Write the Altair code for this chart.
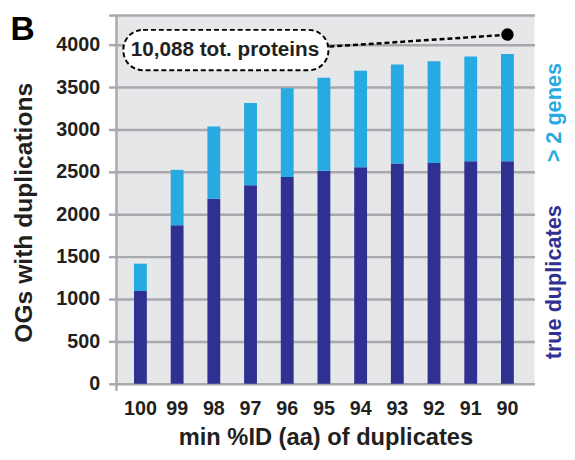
import altair as alt
import pandas as pd

# ---- data ----
pct_id = ["100", "99", "98", "97", "96", "95", "94", "93", "92", "91", "90"]
true_duplicates = [1095, 1870, 2183, 2343, 2439, 2512, 2555, 2598, 2605, 2625, 2625]
more_than_2_genes = [322, 654, 852, 971, 1049, 1100, 1138, 1169, 1201, 1235, 1266]
y_ticks = [0, 500, 1000, 1500, 2000, 2500, 3000, 3500, 4000, 4350]
y_max = 4350
annot_text = "10,088 tot. proteins"
annot_point = {"pid": "90", "v": 4120}

DARK = "#2E3192"
LIGHT = "#27AAE1"
GRID = "#A7A9AC"
BG = "#E6E7E8"
INK = "#231F20"
FONT = "Liberation Sans"

W, H = 424, 374

rows = []
for p, d, g in zip(pct_id, true_duplicates, more_than_2_genes):
    rows.append({"pid": p, "series": "true duplicates", "value": d, "ord": 0})
    rows.append({"pid": p, "series": "> 2 genes", "value": g, "ord": 1})
df = pd.DataFrame(rows)

x_scale = alt.Scale(paddingInner=0.65, paddingOuter=0.52, align=0.46, round=False)

x_enc = alt.X(
    "pid:N",
    sort=pct_id,
    scale=x_scale,
    axis=alt.Axis(
        title="min %ID (aa) of duplicates",
        labelAngle=0, ticks=False, domain=False, grid=False,
        labelPadding=15, labelFont=FONT, labelFontSize=20, labelFontWeight="bold",
        labelColor=INK, titleFont=FONT, titleFontSize=24, titleFontWeight="bold",
        titleColor=INK, titleX=212, titleY=62, titleBaseline="alphabetic",
    ),
)

bars = alt.Chart(df).mark_bar().encode(
    x=x_enc,
    y=alt.Y(
        "value:Q",
        stack="zero",
        scale=alt.Scale(domain=[0, y_max], nice=False),
        axis=alt.Axis(
            title="OGs with duplications",
            values=y_ticks, format="d",
            labelExpr="datum.value > 4000 ? '' : datum.label",
            grid=True, gridColor=GRID, gridWidth=2.5,
            tickColor=GRID, tickWidth=2.5, tickSize=8, domain=False,
            labelPadding=9, labelFont=FONT, labelFontSize=20, labelFontWeight="bold",
            labelColor=INK, titleFont=FONT, titleFontSize=25, titleFontWeight="bold",
            titleColor=INK, titleX=-86, titleY=200, titleBaseline="alphabetic",
        ),
    ),
    color=alt.Color(
        "series:N",
        scale=alt.Scale(domain=["true duplicates", "> 2 genes"], range=[DARK, LIGHT]),
        legend=None,
    ),
    order=alt.Order("ord:Q"),
)

one = pd.DataFrame({"a": [0]})

y_axis_line = alt.Chart(one).mark_rule(color=GRID, strokeWidth=2.5).encode(
    x=alt.value(0), y=alt.value(0), y2=alt.value(H + 7)
)

box = alt.Chart(one).mark_rect(
    fill="white", stroke="black", strokeWidth=2, strokeDash=[5, 3], cornerRadius=20
).encode(x=alt.value(7), x2=alt.value(215), y=alt.value(15), y2=alt.value(56))

box_text = alt.Chart(pd.DataFrame({"t": [annot_text]})).mark_text(
    font=FONT, fontSize=21, fontWeight="bold", color=INK, align="center", baseline="middle"
).encode(x=alt.value(110), y=alt.value(36), text="t:N")

leader = alt.Chart(one).mark_rule(color="black", strokeWidth=2.5, strokeDash=[5, 3]).encode(
    x=alt.value(216), y=alt.value(32), x2=alt.value(396), y2=alt.value(20)
)

dot = alt.Chart(pd.DataFrame([annot_point])).mark_point(
    filled=True, color="black", size=160, opacity=1
).encode(x=alt.X("pid:N", sort=pct_id, scale=x_scale), y=alt.Y("v:Q"))

right_labels = pd.DataFrame({
    "t": ["> 2 genes", "true duplicates"],
    "c": [LIGHT, DARK],
    "yy": [99, 271],
})
rlab = alt.Chart(right_labels).mark_text(
    font=FONT, fontSize=22, fontWeight="bold", angle=270, align="center", baseline="middle"
).encode(
    x=alt.value(444),
    y=alt.Y("yy:Q", scale=None),
    text="t:N",
    color=alt.Color("c:N", scale=None),
)

letter = alt.Chart(pd.DataFrame({"t": ["B"]})).mark_text(
    font=FONT, fontSize=34, fontWeight="bold", color="black", align="right", baseline="alphabetic"
).encode(x=alt.value(-83), y=alt.value(25), text="t:N")

chart = alt.layer(
    bars, y_axis_line, leader, box, box_text, dot, rlab, letter
).properties(
    width=W, height=H,
    padding={"left": 110, "top": 4, "right": 33, "bottom": 66},
    autosize=alt.AutoSizeParams(type="none"),
).configure_view(fill=BG, stroke=None)

chart.save("out.html", embed_options={"renderer": "svg", "actions": False})
